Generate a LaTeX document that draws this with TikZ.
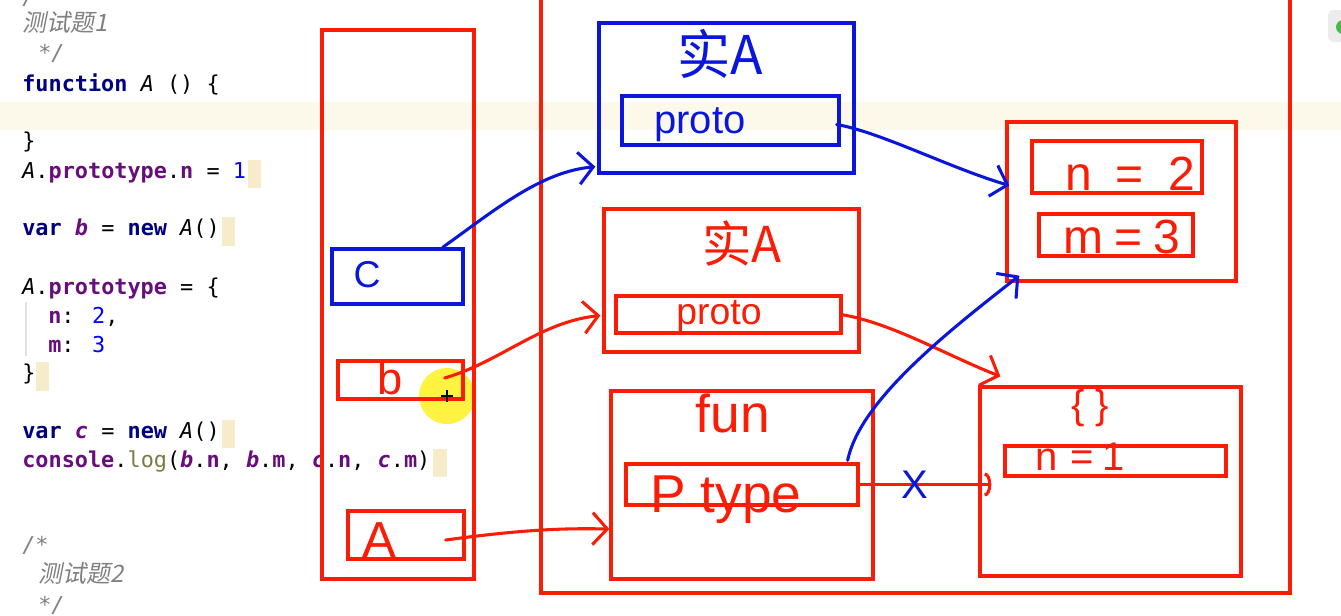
\documentclass[tikz,border=0pt]{standalone}
\usepackage{fontspec}
\setmainfont{Liberation Sans}
\newfontfamily\codefont{DejaVu Sans Mono}[WordSpace={1,0,0}]
\newfontfamily\cjkfont{Noto Sans CJK SC}
\newfontfamily\cjkslant{Noto Sans CJK SC}[FakeSlant=0.2]
\newfontfamily\handfont{Liberation Sans}
\usetikzlibrary{arrows.meta,calc}
\definecolor{hred}{RGB}{250,28,5}
\definecolor{hblue}{RGB}{10,22,220}
\definecolor{ckw}{RGB}{0,0,128}
\definecolor{cfld}{RGB}{102,14,122}
\definecolor{cnum}{RGB}{0,0,255}
\definecolor{cgrey}{RGB}{128,128,128}
\definecolor{clog}{RGB}{122,122,67}
\definecolor{cbeige}{RGB}{246,236,202}
\definecolor{cband}{RGB}{252,248,234}
\definecolor{cguide}{RGB}{225,225,225}
\definecolor{cyel}{RGB}{255,238,0}
\newcommand\cKw[1]{{\bfseries\color{ckw}#1}}
\newcommand\cFld[1]{{\bfseries\color{cfld}#1}}
\newcommand\cNum[1]{{\color{cnum}#1}}
\newcommand\cIt[1]{{\itshape #1}}
\newcommand\cVar[1]{{\bfseries\itshape\color{cfld}#1}}
\newcommand\cLog[1]{{\color{clog}#1}}
\newcommand\mkbox[6]{\node[#6, minimum width={(#4-#2)*0.75pt}, minimum height={(#5-#3)*0.75pt}] (#1) at ({(#2+#4)/2},{(#3+#5)/2}) {};}
\begin{document}
\begin{tikzpicture}[x=0.75pt,y=-0.75pt,
  code/.style={anchor=base west, inner sep=0pt, font=\codefont\fontsize{16.4}{20}\selectfont, text=black},
  cmt/.style={anchor=base west, inner sep=0pt, font=\codefont\itshape\fontsize{16.4}{20}\selectfont, text=cgrey},
  cmtcjk/.style={anchor=base west, inner sep=0pt, font=\cjkslant\fontsize{18}{20}\selectfont, text=cgrey},
  redbox/.style={draw=hred, line width=2.5pt, inner sep=0pt},
  bluebox/.style={draw=hblue, line width=2.5pt, inner sep=0pt},
  hnd/.style={inner sep=0pt, font=\handfont\fontsize{#1}{#1}\selectfont},
  cjkhnd/.style={inner sep=0pt, font=\cjkfont\fontsize{#1}{#1}\selectfont},
  rarrow/.style={draw=hred, line width=2.3pt, line cap=round, -{Straight Barb[length=11pt,width=24pt,line width=2.3pt]}},
  barrow/.style={draw=hblue, line width=2.3pt, line cap=round, -{Straight Barb[length=11pt,width=24pt,line width=2.3pt]}},
  rarc/.style={draw=hred, line width=2.3pt, line cap=round, -{Arc Barb[length=5pt,width=18pt,line width=2.3pt]}},
  xmark/.style={inner sep=0pt, text=hblue, font=\handfont\fontsize{30}{30}\selectfont}
]
\useasboundingbox (0,0) rectangle (1341,615);
\clip (0,0) rectangle (1341,615);
\fill[white] (0,0) rectangle (1341,615);
% current line band
\fill[cband] (0,102) rectangle (1341,130);
% cursor blocks
\fill[cbeige] (248,160) rectangle (261,188);
\fill[cbeige] (222,217) rectangle (235,246);
\fill[cbeige] (36,362) rectangle (49,391);
\fill[cbeige] (222,420) rectangle (235,448);
\fill[cbeige] (433,449) rectangle (447,477);
% indent guide
\draw[cguide, line width=0.8pt] (26,302) -- (26,356);
% top right icon
\fill[gray!15, rounded corners=4] (1328,10) rectangle (1352,42);
\fill[green!60!black!70] (1343,27) circle [radius=7];
% code
\node[cmt] (c0) at (22,4) {/*};
\node[cmtcjk] (c1) at (22,31) {测试题1};
\node[cmt] (c2) at (38,60) {*/};
\node[code] (l3) at (22,91) {\cKw{function} \cIt{A} () \{};
\node[code] (l4) at (22,148) {\}};
\node[code] (l5) at (22,178) {\cIt{A}.\cFld{prototype}.\cFld{n} = \cNum{1}};
\node[code] (l6) at (22,235) {\cKw{var} \cVar{b} = \cKw{new} \cIt{A}()};
\node[code] (l7) at (22,294) {\cIt{A}.\cFld{prototype} = \{};
\node[code] (l8) at (48,323) {\cFld{n}: \cNum{2},};
\node[code] (l9) at (48,352) {\cFld{m}: \cNum{3}};
\node[code] (l10) at (22,380) {\}};
\node[code] (l11) at (22,438) {\cKw{var} \cVar{c} = \cKw{new} \cIt{A}()};
\node[code] (l12) at (22,467) {\cFld{console}.\cLog{log}(\cVar{b}.\cFld{n}, \cVar{b}.\cFld{m}, \cVar{c}.\cFld{n}, \cVar{c}.\cFld{m})};
\node[cmt] (c3) at (22,552) {/*};
\node[cmtcjk] (c4) at (38,582) {测试题2};
\node[cmt] (c5) at (38,612) {*/};
% mouse highlight
\fill[cyel, opacity=0.75] (447,396) circle [radius=28];
% stack
\mkbox{stack}{322}{30}{474}{579}{redbox}
\mkbox{cbox}{332}{249}{463}{304}{bluebox}
\mkbox{bbox}{338}{361}{463}{399}{redbox}
\mkbox{Abox}{348}{511}{464}{559}{redbox}
\node[hnd=28, text=hblue] (clab) at (367,275) {C};
\node[hnd=34, text=hred, anchor=base] (blab) at (390,394) {b};
\node[hnd=38, text=hred, anchor=base] (Alab) at (379,557) {A};
% heap
\mkbox{heap}{541}{-10}{1290}{593}{redbox}
\mkbox{instA}{599}{23}{854}{173}{bluebox}
\mkbox{protoA}{622}{96}{839}{145}{bluebox}
\node[cjkhnd=40, text=hblue] (instAlab) at (720,54) {实A};
\node[hnd=30, text=hblue] (protoAlab) at (700,125) {proto};
\mkbox{instB}{604}{209}{859}{352}{redbox}
\mkbox{protoB}{616}{296}{841}{333}{redbox}
\node[cjkhnd=37, text=hred] (instBlab) at (742,243) {实A};
\node[hnd=28, text=hred] (protoBlab) at (719,316) {proto};
\mkbox{funbox}{611}{391}{873}{579}{redbox}
\mkbox{ptype}{626}{464}{858}{505}{redbox}
\node[hnd=40, text=hred] (funlab) at (733,413) {fun};
\node[hnd=40, text=hred, anchor=base west] (ptypelab) at (650,512) {P type};
\mkbox{nmbox}{1007}{122}{1236}{281}{redbox}
\mkbox{nbox}{1032}{141}{1202}{193}{redbox}
\mkbox{mbox}{1039}{214}{1193}{256}{redbox}
\node[hnd=36, text=hred, anchor=base] (nlab) at (1130,190) {n\hspace{18pt}=\hspace{18pt}2};
\node[hnd=36, text=hred, anchor=base] (mlab) at (1122,253) {m\hspace{8pt}=\hspace{8pt}3};
\mkbox{objbox}{980}{387}{1241}{576}{redbox}
\mkbox{n1box}{1005}{446}{1226}{476}{redbox}
\node[hnd=30, text=hred] (objlab) at (1090,408) {\{ \}};
\node[hnd=30, text=hred, anchor=base] (n1lab) at (1080,470) {n\hspace{10pt}=\hspace{6pt}1};
% connectors
\draw[barrow] ($(cbox.north east)+(-22,0)$) .. controls (495,210) and (540,172) .. ($(instA.south west)+(-2,-8)$);
\draw[barrow] ($(protoA.east)+(-4,4)$) .. controls (880,132) and (950,168) .. ($(nmbox.west)+(4,-16)$);
\draw[rarrow] ($(bbox.east)+(-20,-2)$) .. controls (500,362) and (540,322) .. ($(instB.west)+(-2,35)$);
\draw[rarrow] ($(protoB.east)+(-2,0)$) .. controls (890,322) and (950,357) .. ($(objbox.north west)+(22,-9)$);
\draw[rarrow] ($(Abox.east)+(-20,5)$) .. controls (520,530) and (560,528) .. ($(funbox.west)+(0,44)$);
\draw[barrow] ($(ptype.north east)+(-12,-2)$) .. controls (860,400) and (950,330) .. ($(nmbox.south west)+(14,-7)$);
\draw[rarc] (ptype.east) -- node[xmark, pos=0.42] (xm) {X} ($(objbox.west)+(13,3)$);
% mouse cursor cross
\draw[black, line width=1.4pt] (441,396) -- (453,396) (447,390) -- (447,402);
\end{tikzpicture}
\end{document}
